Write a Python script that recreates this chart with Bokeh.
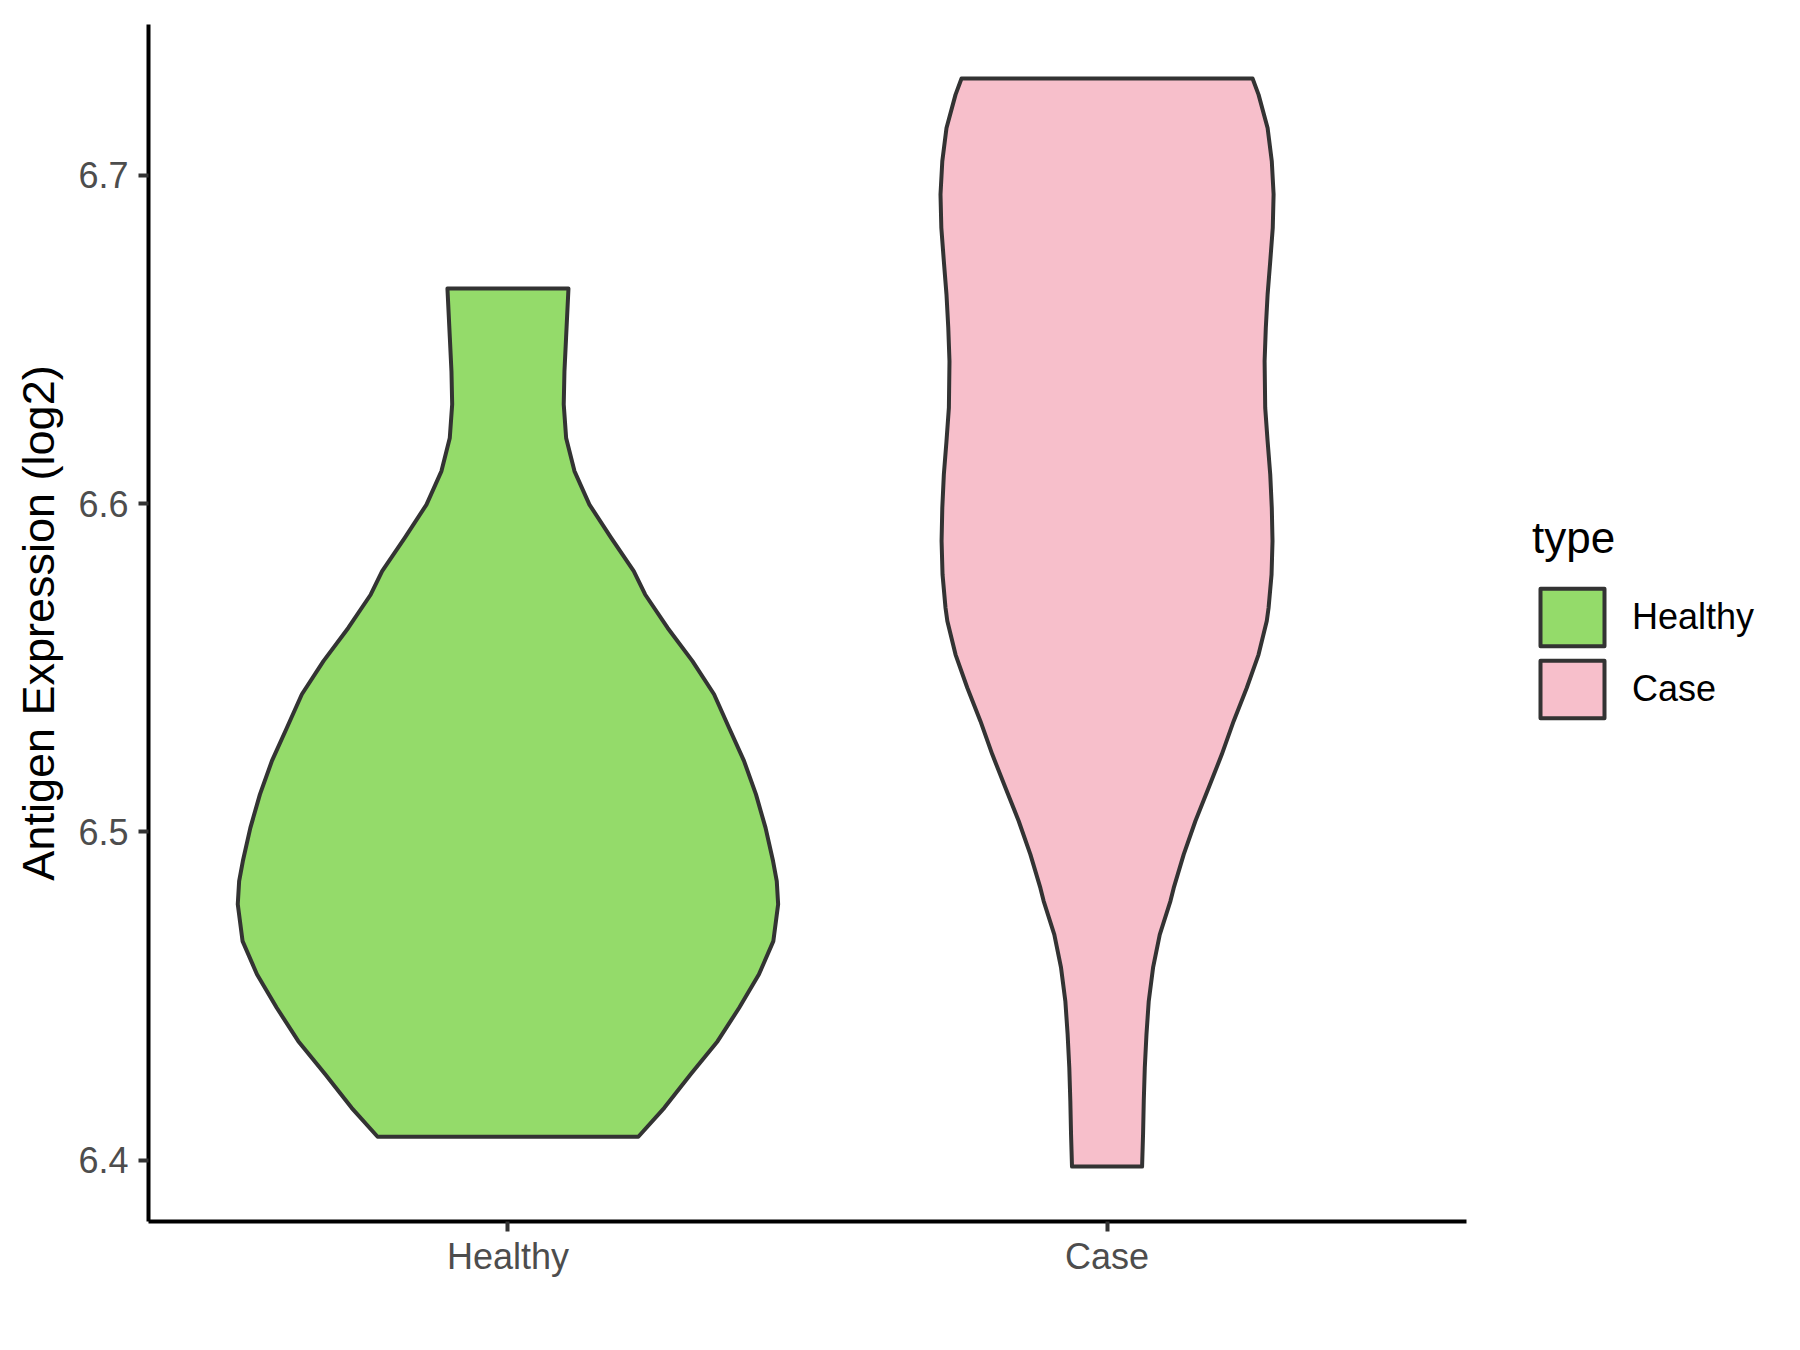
from bokeh.plotting import figure
from bokeh.models import Range1d, FixedTicker, Legend, LegendItem
from bokeh.embed import file_html
from bokeh.resources import INLINE

# ---- data ----
categories = ["Healthy", "Case"]
fill_colors = ["#94DB6A", "#F7BFCB"]
y_ticks = [6.4, 6.5, 6.6, 6.7]

# violin outlines: expression value and half-width (in category units)
healthy_y = [6.4071, 6.4159, 6.4261, 6.4362, 6.4464, 6.4566, 6.4667, 6.4779,
             6.4850, 6.4911, 6.5012, 6.5114, 6.5216, 6.5317, 6.5419, 6.5520,
             6.5621, 6.5723, 6.5794, 6.5896, 6.5997, 6.6099, 6.6200, 6.6302,
             6.6403, 6.6505, 6.6655]
healthy_w = [0.2176, 0.261, 0.305, 0.350, 0.386, 0.419, 0.443, 0.451,
             0.4487, 0.4425, 0.430, 0.414, 0.394, 0.369, 0.344, 0.308,
             0.2666, 0.229, 0.210, 0.172, 0.136, 0.111, 0.0971, 0.0931,
             0.0943, 0.097, 0.101]

case_y = [6.3980, 6.4078, 6.4180, 6.4281, 6.4383, 6.4484, 6.4586, 6.4687,
          6.4789, 6.4829, 6.4931, 6.5033, 6.5134, 6.5236, 6.5337, 6.5439,
          6.5540, 6.5642, 6.5682, 6.5784, 6.5886, 6.5987, 6.6089, 6.6190,
          6.6292, 6.6434, 6.6535, 6.6637, 6.6738, 6.6840, 6.6942, 6.7043,
          6.7144, 6.7246, 6.7295]
case_w = [0.0585, 0.0601, 0.0613, 0.0630, 0.0658, 0.0696, 0.0768, 0.0880,
          0.1058, 0.1113, 0.1280, 0.1475, 0.1696, 0.1916, 0.2113, 0.2333,
          0.2529, 0.2666, 0.2696, 0.2746, 0.2762, 0.2750, 0.2724, 0.2680,
          0.2640, 0.2630, 0.2650, 0.2680, 0.2724, 0.2766, 0.2780, 0.2750,
          0.2680, 0.2529, 0.2429]

outlines_y = [healthy_y, case_y]
outlines_w = [healthy_w, case_w]

FONT = "Liberation Sans"
DARK = "#333333"

p = figure(frame_width=1318, frame_height=1197,
           min_border_left=148, min_border_top=24,
           min_border_right=318, min_border_bottom=113,
           x_range=Range1d(0.4, 2.6), y_range=Range1d(6.38127, 6.74596),
           output_backend="svg", toolbar_location=None)

p.background_fill_color = "white"
p.border_fill_color = "white"
p.outline_line_color = None
p.xgrid.visible = False
p.ygrid.visible = False

renderers = []
for i, cat in enumerate(categories):
    pos = i + 1
    ys = outlines_y[i]
    ws = outlines_w[i]
    xs = [pos - w for w in ws] + [pos + w for w in reversed(ws)]
    yy = list(ys) + list(reversed(ys))
    r = p.patch(xs, yy, fill_color=fill_colors[i], line_color=DARK,
                line_width=4, line_join="round")
    renderers.append(r)

# axes
p.xaxis.ticker = FixedTicker(ticks=[i + 1 for i in range(len(categories))])
p.xaxis.major_label_overrides = {i + 1: c for i, c in enumerate(categories)}
p.yaxis.ticker = FixedTicker(ticks=y_ticks)
p.yaxis.major_label_overrides = {t: f"{t:.1f}" for t in y_ticks}
p.yaxis.axis_label = "Antigen Expression (log2)"

for ax in (p.xaxis, p.yaxis):
    ax.axis_line_color = "black"
    ax.axis_line_width = 4
    ax.major_tick_line_color = DARK
    ax.major_tick_line_width = 4
    ax.major_tick_out = 10
    ax.major_tick_in = 0
    ax.minor_tick_line_color = None
    ax.major_label_text_font = FONT
    ax.major_label_text_font_size = "36px"
    ax.major_label_text_color = "#4D4D4D"
    ax.axis_label_text_font = FONT
    ax.axis_label_text_font_size = "45px"
    ax.axis_label_text_font_style = "normal"
    ax.axis_label_text_color = "black"

p.xaxis.major_label_standoff = 4
p.yaxis.major_label_standoff = 10
p.yaxis.axis_label_standoff = 11

legend = Legend(items=[LegendItem(label=c, renderers=[r]) for c, r in zip(categories, renderers)],
                location=(66, 496), orientation="vertical",
                title="type", title_text_font=FONT, title_text_font_size="44px",
                title_text_font_style="normal", title_text_color="black",
                title_standoff=18,
                label_text_font=FONT, label_text_font_size="36px", label_text_color="black",
                label_standoff=20, glyph_width=80, glyph_height=72, spacing=0,
                padding=0, margin=0, border_line_color=None,
                background_fill_alpha=0)
p.add_layout(legend, "right")

open("out.html", "w").write(file_html(p, INLINE))
